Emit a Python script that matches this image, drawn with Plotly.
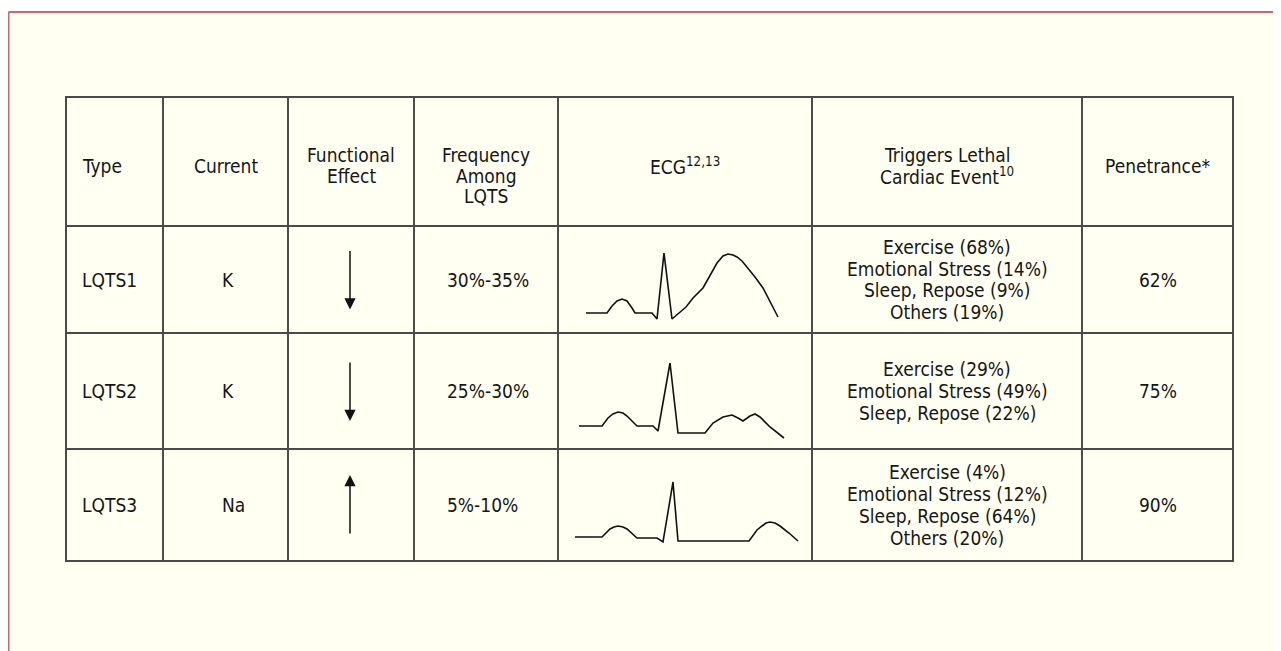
import plotly.graph_objects as go

W, H = 1281, 651
OFF = 8  # page body margin: figure starts 8px right/down of the window corner

# ---------------- data ----------------
header_labels = [
    ["Type"],
    ["Current"],
    ["Functional", "Effect"],
    ["Frequency", "Among", "LQTS"],
    ["ECG<sup>12,13</sup>"],
    ["Triggers Lethal", "Cardiac Event<sup>10</sup>"],
    ["Penetrance*"],
]
types = ["LQTS1", "LQTS2", "LQTS3"]
currents = ["K", "K", "Na"]
effects = ["down", "down", "up"]
frequencies = ["30%-35%", "25%-30%", "5%-10%"]
triggers = [
    ["Exercise (68%)", "Emotional Stress (14%)", "Sleep, Repose (9%)", "Others (19%)"],
    ["Exercise (29%)", "Emotional Stress (49%)", "Sleep, Repose (22%)"],
    ["Exercise (4%)", "Emotional Stress (12%)", "Sleep, Repose (64%)", "Others (20%)"],
]
penetrance = ["62%", "75%", "90%"]

# ECG sketches: time (px from cell left) and amplitude (px above cell floor)
ecg1_t = [28, 49, 54, 59, 64, 69, 74, 77, 94, 99, 106, 114, 128, 135, 145, 152, 159, 165, 170, 175, 179, 184, 189, 197, 205, 213, 220]
ecg1_v = [20, 20, 27, 32, 34, 32, 25, 20, 20, 14, 80, 14, 26, 35, 45, 57, 70, 77, 79, 78, 76, 72, 66, 56, 45, 30, 16]
ecg2_t = [21, 44, 50, 55, 60, 65, 69, 74, 79, 95, 100, 112, 120, 147, 155, 165, 174, 180, 185, 192, 197, 202, 212, 226]
ecg2_v = [23, 23, 31, 35, 37, 36, 33, 28, 23, 23, 18, 86, 16, 16, 26, 32, 34, 31, 28, 33, 35, 32, 22, 11]
ecg3_t = [17, 44, 52, 56, 60, 65, 69, 74, 79, 99, 105, 115, 120, 191, 199, 204, 208, 212, 217, 222, 231, 240]
ecg3_v = [24, 24, 32, 34, 35, 34, 32, 27, 23, 23, 19, 79, 20, 20, 31, 35, 38, 39, 38, 35, 28, 20]
ecg_t = [ecg1_t, ecg2_t, ecg3_t]
ecg_v = [ecg1_v, ecg2_v, ecg3_v]

# ---------------- layout geometry (window pixels) ----------------
col_edges = [66, 163, 288, 414, 558, 812, 1082, 1233]
row_edges = [97, 226, 333, 449, 561]
FONT = "Liberation Sans Narrow, DejaVu Sans Condensed, Arial Narrow, Roboto, sans-serif"
FS = 19
TXT = "#161616"

fig = go.Figure()

fig.update_layout(
    width=W, height=H,
    margin=dict(l=0, r=0, t=0, b=0),
    paper_bgcolor="white",
    plot_bgcolor="rgba(0,0,0,0)",
    showlegend=False,
    xaxis=dict(range=[OFF, W + OFF], domain=[0, 1], visible=False, fixedrange=True),
    yaxis=dict(range=[H + OFF, OFF], domain=[0, 1], visible=False, fixedrange=True),
)
fig.add_trace(go.Scatter(x=[OFF, W], y=[OFF, H], mode="markers", marker=dict(opacity=0), hoverinfo="skip"))

shapes = []
shapes.append(dict(type="rect", xref="x", yref="y", x0=8.5, x1=W + 20, y0=12, y1=H + 20,
                   fillcolor="#fffff2", line=dict(width=0), layer="below"))
shapes.append(dict(type="line", xref="x", yref="y", x0=8.5, x1=W + 20, y0=12, y1=12,
                   line=dict(color="#cc6872", width=2)))
shapes.append(dict(type="line", xref="x", yref="y", x0=8.5, x1=8.5, y0=12, y1=H + 20,
                   line=dict(color="#cc6872", width=2)))

for x in col_edges[1:-1]:
    shapes.append(dict(type="line", xref="x", yref="y", x0=x, x1=x, y0=row_edges[0], y1=row_edges[-1],
                       line=dict(color="#111111", width=1.5)))
for y in row_edges[1:-1]:
    shapes.append(dict(type="line", xref="x", yref="y", x0=col_edges[0], x1=col_edges[-1], y0=y, y1=y,
                       line=dict(color="#4a4a4a", width=2)))
shapes.append(dict(type="rect", xref="x", yref="y", x0=col_edges[0], x1=col_edges[-1],
                   y0=row_edges[0], y1=row_edges[-1], line=dict(color="#4a4a4a", width=2)))
fig.update_layout(shapes=shapes)

ann = []

def txt(x, y, s, xanchor="center"):
    ann.append(dict(x=x, y=y, xref="x", yref="y", text=s, showarrow=False,
                    xanchor=xanchor, yanchor="middle",
                    font=dict(family=FONT, size=FS, color=TXT)))

for c, lines in enumerate(header_labels):
    cx = (col_edges[c] + col_edges[c + 1]) / 2
    y0 = 166 if len(lines) == 1 else 155
    for i, s in enumerate(lines):
        if c == 0:
            txt(col_edges[0] + 14, y0 + i * 20.5, s, "left")
        else:
            txt(cx, y0 + i * 20.5, s)

LS = 21.7
for r in range(3):
    cy = (row_edges[r + 1] + row_edges[r + 2]) / 2
    txt(col_edges[0] + 14, cy, types[r], "left")
    txt(col_edges[1] + 57, cy, currents[r], "left")
    txt(col_edges[3] + 31, cy, frequencies[r], "left")
    txt((col_edges[6] + col_edges[7]) / 2, cy, penetrance[r])
    n = len(triggers[r])
    tx = (col_edges[5] + col_edges[6]) / 2
    for i, s in enumerate(triggers[r]):
        txt(tx, cy + (i - (n - 1) / 2) * LS, s)
    ax_x = (col_edges[2] + col_edges[3]) / 2 - 1
    top, bot = cy - 30, cy + 30
    tip, tail = (bot, top) if effects[r] == "down" else (top, bot)
    ann.append(dict(x=ax_x, y=tip, ax=ax_x, ay=tail, xref="x", yref="y", axref="x", ayref="y",
                    text="", showarrow=True, arrowhead=2, arrowsize=1.5, arrowwidth=1.5,
                    arrowcolor="#111111", standoff=0, startstandoff=0))

fig.update_layout(annotations=ann)

for r in range(3):
    k = r + 2
    x0, x1 = col_edges[4], col_edges[5]
    y0, y1 = row_edges[r + 1], row_edges[r + 2]
    fig.update_layout(**{
        f"xaxis{k}": dict(domain=[(x0 - OFF) / W, (x1 - OFF) / W], range=[0, x1 - x0], visible=False,
                          fixedrange=True, anchor=f"y{k}"),
        f"yaxis{k}": dict(domain=[1 - (y1 - OFF) / H, 1 - (y0 - OFF) / H], range=[0, y1 - y0], visible=False,
                          fixedrange=True, anchor=f"x{k}"),
    })
    fig.add_trace(go.Scatter(x=ecg_t[r], y=ecg_v[r], mode="lines", xaxis=f"x{k}", yaxis=f"y{k}",
                             line=dict(color="#111111", width=1.6), hoverinfo="skip"))

fig.write_html("out.html")
